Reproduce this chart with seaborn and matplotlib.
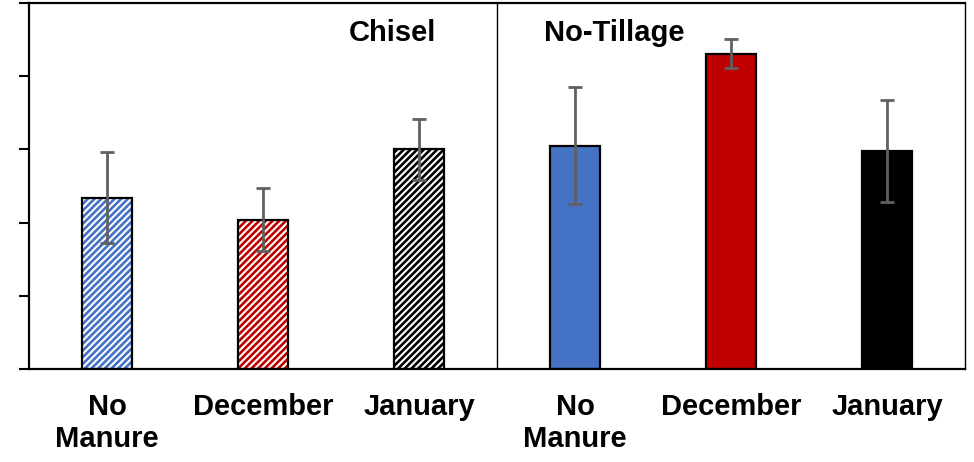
import matplotlib
matplotlib.use("Agg")
import matplotlib.pyplot as plt
import seaborn as sns
import pandas as pd

# Treatment groups under each tillage system
tillage = ["Chisel", "Chisel", "Chisel", "No-Tillage", "No-Tillage", "No-Tillage"]
treatment = ["No Manure", "December", "January", "No Manure", "December", "January"]
tick_labels = ["No\nManure", "December", "January", "No\nManure", "December", "January"]
means = [2.34, 2.04, 3.00, 3.05, 4.31, 2.98]
errors = [0.62, 0.43, 0.42, 0.80, 0.20, 0.70]

blue, red, black = "#4472C4", "#C00000", "#000000"
bar_colors = [blue, red, black, blue, red, black]
hatched = [True, True, True, False, False, False]

df = pd.DataFrame({
    "slot": [f"{t} | {m}" for t, m in zip(tillage, treatment)],
    "value": means,
})
order = list(df["slot"])

sns.set_theme(style="white")
plt.rcParams["font.family"] = ["Liberation Sans", "DejaVu Sans"]
plt.rcParams["text.color"] = "black"
plt.rcParams["hatch.linewidth"] = 1.9

fig = plt.figure(figsize=(9.74, 4.62), dpi=100)
ax = fig.add_axes([0.0298, 0.2013, 0.9610, 0.7922])

# Fill layer: solid colours or coloured diagonal hatching on white
sns.barplot(data=df, x="slot", y="value", order=order, width=0.32,
            errorbar=None, ax=ax, zorder=2)
for patch, col, h in zip(ax.patches, bar_colors, hatched):
    if h:
        patch.set_facecolor("white")
        patch.set_hatch("/////")
        patch.set_edgecolor(col)
        patch.set_linewidth(0)
    else:
        patch.set_facecolor(col)
        patch.set_edgecolor(col)
        patch.set_linewidth(0)

# Outline layer
sns.barplot(data=df, x="slot", y="value", order=order, width=0.32,
            errorbar=None, fill=False, color="black", ax=ax, zorder=3)
for patch in ax.patches[len(order):]:
    patch.set_edgecolor("black")
    patch.set_linewidth(1.6)

# Error bars
ax.errorbar(range(len(order)), means, yerr=errors, fmt="none",
            ecolor="#606060", elinewidth=2.0, capsize=5, capthick=2.0, zorder=4)

# Divider between tillage systems
ax.axvline(2.5, color="black", lw=1.0, zorder=1)

ax.text(1.83, 4.59, "Chisel", ha="center", va="center",
        fontsize=21, fontweight="bold", color="black")
ax.text(3.25, 4.59, "No-Tillage", ha="center", va="center",
        fontsize=21, fontweight="bold", color="black")

ax.set_xlim(-0.5, 5.5)
ax.set_ylim(0, 5)
ax.set_yticks([0, 1, 2, 3, 4, 5])
ax.set_yticklabels([])
ax.set_xticks(range(len(order)))
ax.set_xticklabels(tick_labels, fontsize=21, fontweight="bold", linespacing=1.22,
                   color="black")
ax.set_xlabel("")
ax.set_ylabel("")
ax.tick_params(axis="x", length=0, pad=17, colors="black")
ax.tick_params(axis="y", left=True, length=7, width=1.5, direction="out", colors="black")

for side, lw in [("left", 1.6), ("bottom", 1.6), ("top", 1.6), ("right", 1.0)]:
    ax.spines[side].set_visible(True)
    ax.spines[side].set_color("black")
    ax.spines[side].set_linewidth(lw)

fig.savefig("out.png", dpi=100, facecolor="white")
